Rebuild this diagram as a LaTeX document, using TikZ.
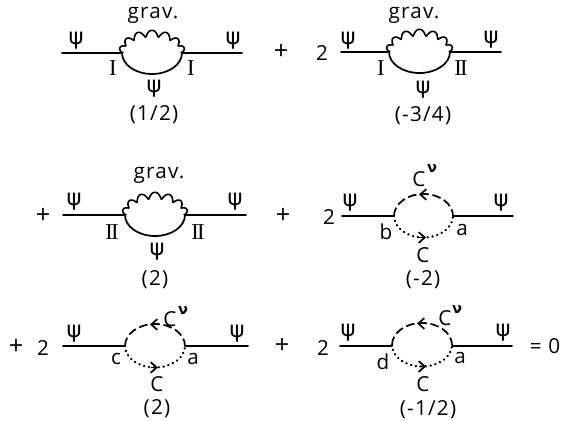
\documentclass[tikz,border=0pt]{standalone}
\usepackage{fontspec}
\setmainfont[LetterSpace=6]{Open Sans}
\newfontfamily\psifont{DejaVu Sans}
\newfontfamily\romfont{Liberation Serif}
\usetikzlibrary{arrows.meta}
\tikzset{
  x=0.75pt,y=-0.75pt,
  ferm/.style={line width=1.4pt,line cap=round},
  lbl/.style={inner sep=0pt,font=\fontsize{15.5}{15.5}\selectfont},
  plusop/.style={inner sep=0pt,font=\fontsize{19}{19}\selectfont},
  psi/.style={inner sep=0pt,font=\psifont\fontsize{17}{17}\selectfont},
  nu/.style={inner sep=0pt,font=\psifont\fontsize{11}{11}\selectfont\bfseries},
  rom/.style={inner sep=0pt,font=\romfont\fontsize{17}{17}\selectfont},
  dashline/.style={line width=1.3pt,dash pattern=on 6.5pt off 2.8pt},
  dotline/.style={line width=1.9pt,line cap=round,dash pattern=on 0.1pt off 3.6pt},
  barb/.style={line width=1.3pt,-{Straight Barb[length=4.5pt,width=8pt,line width=1.3pt]}}
}
\newcommand{\twoI}{I\kern-1.2pt I}
% legs: #1 left end x, #2 loop left x, #3 loop right x, #4 right end x, #5 y
\newcommand{\legs}[5]{%
  \coordinate (la) at (#1,#5); \coordinate (lb) at (#2,#5);
  \coordinate (ra) at (#3,#5); \coordinate (rb) at (#4,#5);
  \draw[ferm] (la) -- (lb); \draw[ferm] (ra) -- (rb);
}
% solid lower arc plus wavy upper arc; #1 left x, #2 right x, #3 y
\newcommand{\gravloop}[3]{%
  \pgfmathsetmacro{\cxx}{(#1+#2)/2}\pgfmathsetmacro{\axx}{(#2-#1)/2}%
  \draw[line width=1.3pt] (#2,#3) arc[start angle=0,end angle=-180,x radius=\axx*0.75pt,y radius=21*0.75pt];
  \draw[line width=1.2pt,line join=round] plot[smooth,domain=0:180,samples=211,variable=\t]
    ({\cxx+(\axx+1-2*cos(14*\t))*cos(\t-2.2*sin(14*\t))},{#3-(19.5-3.2*cos(14*\t))*sin(\t-2.2*sin(14*\t))});
}
% dashed upper arc, dotted lower arc; #1 left x, #2 right x, #3 y, #4 upper arrow x, #5 lower arrow x
\newcommand{\ghostloop}[5]{%
  \pgfmathsetmacro{\cxx}{(#1+#2)/2}\pgfmathsetmacro{\axx}{(#2-#1)/2}%
  \draw[dashline] (#1,#3) arc[start angle=180,end angle=0,x radius=\axx*0.75pt,y radius=22*0.75pt];
  \draw[dotline] (#1,#3) arc[start angle=180,end angle=360,x radius=\axx*0.75pt,y radius=21.5*0.75pt];
  \draw[barb] (#4+4,#3-21.5) -- (#4-3,#3-21.5);
  \draw[barb] (#5-4,#3+21.5) -- (#5+3,#3+21.5);
}
\begin{document}
\begin{tikzpicture}
\useasboundingbox (0,0) rectangle (561,421);
\fill[white] (0,0) rectangle (561,421);
% diagram 1
\legs{62}{122}{182}{242}{53}
\gravloop{122}{182}{53}
\node[lbl] (g1) at (153,15) {grav.};
\node[psi] (p1a) at (76,41) {ψ};
\node[psi] (p1b) at (233,41) {ψ};
\node[rom] (i1a) at (113,68) {I};
\node[rom] (i1b) at (191,68) {I};
\node[psi] (p1c) at (154,89) {ψ};
\node[lbl] (w1) at (154,115) {(1/2)};
\node[plusop] (plus1) at (281,52) {+};
% diagram 2
\node[lbl] (two2) at (322,53) {2};
\legs{341}{389}{450}{501}{52}
\gravloop{389}{450}{52}
\node[lbl] (g2) at (414,15) {grav.};
\node[psi] (p2a) at (348,41) {ψ};
\node[psi] (p2b) at (491,40) {ψ};
\node[rom] (i2a) at (381,68) {I};
\node[rom] (i2b) at (461,68) {\twoI};
\node[psi] (p2c) at (423,90) {ψ};
\node[lbl] (w2) at (423,116) {(-3/4)};
% diagram 3
\node[plusop] (plus3) at (43,216) {+};
\legs{63}{125}{185}{246}{215}
\gravloop{125}{185}{215}
\node[lbl] (g3) at (159,175) {grav.};
\node[psi] (p3a) at (74,202) {ψ};
\node[psi] (p3b) at (235,202) {ψ};
\node[rom] (i3a) at (112,232) {\twoI};
\node[rom] (i3b) at (198,232) {\twoI};
\node[psi] (p3c) at (157,252) {ψ};
\node[lbl] (w3) at (155,280) {(2)};
\node[plusop] (plus4) at (283,216) {+};
% diagram 4
\node[lbl] (two4) at (329,217) {2};
\legs{342}{394}{453}{513}{216}
\ghostloop{394}{453}{216}{422}{423}
\node[lbl] (c4a) at (419,179) {C};
\node[nu] (n4) at (432,168) {ν};
\node[psi] (p4a) at (350,203) {ψ};
\node[psi] (p4b) at (501,203) {ψ};
\node[lbl] (b4) at (386,232) {b};
\node[lbl] (a4) at (462,230) {a};
\node[lbl] (c4b) at (423,255) {C};
\node[lbl] (w4) at (423,280) {(-2)};
% diagram 5
\node[plusop] (plus5) at (16,347) {+};
\node[lbl] (two5) at (43,348) {2};
\legs{63}{125}{185}{248}{346}
\ghostloop{125}{185}{346}{153}{155}
\node[lbl] (c5a) at (170,319) {C};
\node[nu] (n5) at (183,310) {ν};
\node[psi] (p5a) at (74,334) {ψ};
\node[psi] (p5b) at (237,334) {ψ};
\node[lbl] (c5) at (116,359) {c};
\node[lbl] (a5) at (193,359) {a};
\node[lbl] (c5b) at (157,384) {C};
\node[lbl] (w5) at (157,409) {(2)};
\node[plusop] (plus6) at (282,346) {+};
% diagram 6
\node[lbl] (two6) at (323,348) {2};
\legs{340}{392}{452}{512}{346}
\ghostloop{392}{452}{345}{420}{423}
\node[lbl] (c6a) at (445,318) {C};
\node[nu] (n6) at (457,309) {ν};
\node[psi] (p6a) at (348,333) {ψ};
\node[psi] (p6b) at (503,333) {ψ};
\node[lbl] (d6) at (383,362) {d};
\node[lbl] (a6) at (460,358) {a};
\node[lbl] (c6b) at (423,384) {C};
\node[lbl] (w6) at (428,410) {(-1/2)};
\node[lbl] (eq) at (545,346) {= 0};
\end{tikzpicture}
\end{document}
